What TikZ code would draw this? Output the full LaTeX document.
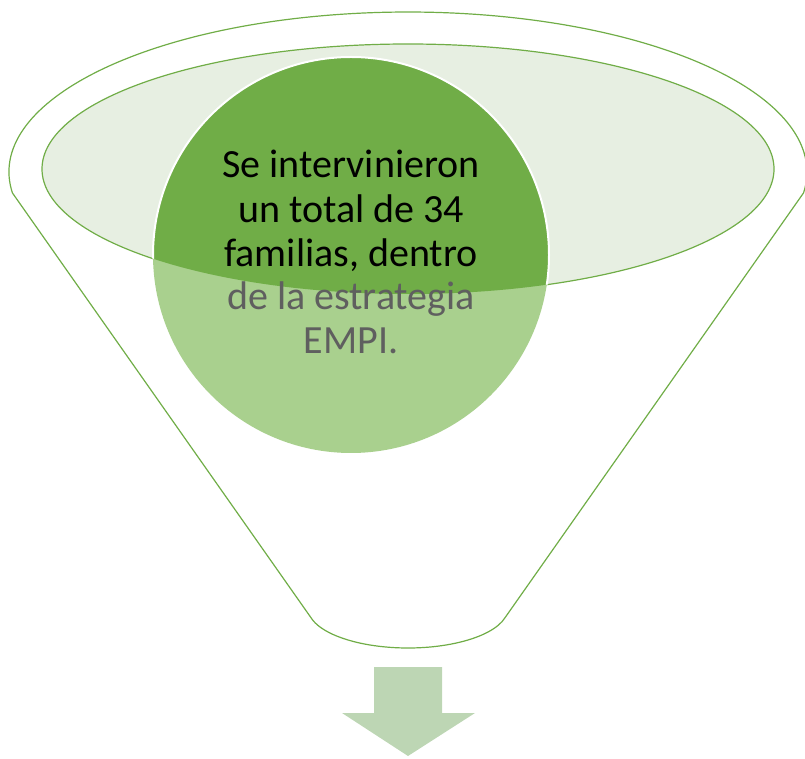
\documentclass[tikz,border=0pt]{standalone}
\usepackage{fontspec}
\setmainfont{Carlito}
\definecolor{fgreen}{HTML}{70AD47}
\definecolor{lgreen}{HTML}{A9D08E}
\definecolor{ellfill}{HTML}{E7EFE2}
\definecolor{arrowc}{HTML}{BDD6B4}
\definecolor{txtgray}{HTML}{5F5F5F}
\tikzset{
  outline/.style={draw=fgreen, line width=1.2pt},
  txt/.style={anchor=base, inner sep=0pt, font=\fontsize{40}{44}\selectfont},
}
\begin{document}
\begin{tikzpicture}[x=1pt,y=1pt]
\useasboundingbox (0,0) rectangle (805,758);
% outer funnel outline
\draw[outline] (12.4,565.1) arc[start angle=187.5, end angle=-7.5, x radius=399, y radius=160]
  -- (505,140.28) arc[start angle=-14.07, end angle=-165.93, x radius=100, y radius=40] -- cycle;
% inner ellipse (funnel mouth)
\path[outline, fill=ellfill] (408,589) ellipse[x radius=366, y radius=125];
% circle
\fill[lgreen] (351,503) circle[radius=198];
\begin{scope}
  \clip (408,589) ellipse[x radius=366, y radius=125];
  \path[fill=fgreen, draw=white, line width=2pt] (351,503) circle[radius=198];
\end{scope}
% text
\node[txt, text=black] (t1) at (351,580) {Se intervinieron};
\node[txt, text=black] (t2) at (351,535) {un total de 34};
\node[txt, text=black] (t3) at (351,491) {familias, dentro};
\node[txt, text=txtgray] (t4) at (351,448) {de la estrategia};
\node[txt, text=txtgray] (t5) at (351,404) {EMPI.};
% down arrow
\fill[arrowc] (374,91) -- (442,91) -- (442,45) -- (475,45) -- (408,2) -- (342,45) -- (374,45) -- cycle;
\end{tikzpicture}
\end{document}
